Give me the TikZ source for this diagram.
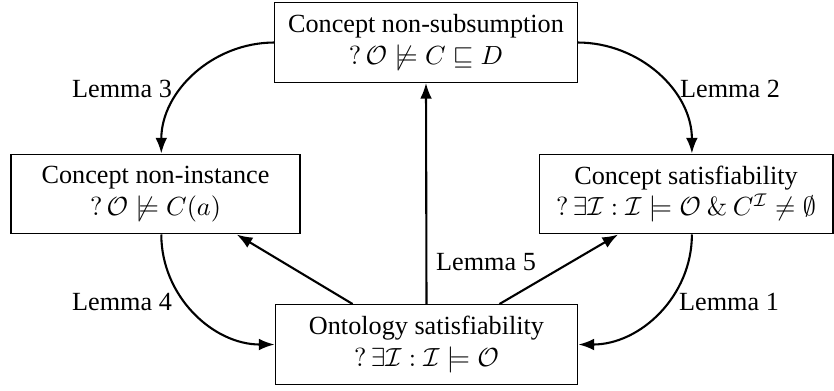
\documentclass[tikz,border=0pt]{standalone}
\usepackage{amssymb}
\usepackage[no-math]{fontspec}
\setmainfont{Liberation Serif}
\usetikzlibrary{arrows.meta,calc}
\begin{document}
\begin{tikzpicture}[x=0.3817pt,y=-0.3817pt,
  box/.style={draw,line width=0.4pt,align=center,inner sep=2pt,minimum height=30.5pt},
  conn/.style={line width=0.8pt,-{Latex[length=6pt,width=4.5pt]}},
  lbl/.style={inner sep=0pt}]
\useasboundingbox (0,0) rectangle (834,390);
\node[box,minimum width=115.3pt] (top) at (426,42.5) {Concept non-subsumption\\ $?\,\mathcal{O}\not\models C\sqsubseteq D$};
\node[box,minimum width=110.3pt] (left) at (155.5,194) {Concept non-instance\\ $?\,\mathcal{O}\not\models C(a)$};
\node[box,minimum width=112.2pt] (right) at (686,194) {Concept satisfiability\\ $?\,\exists\mathcal{I}:\mathcal{I}\models\mathcal{O}\mathbin{\&}C^{\mathcal{I}}\neq\emptyset$};
\node[box,minimum width=115.6pt] (bot) at (426.5,344.5) {Ontology satisfiability\\ $?\,\exists\mathcal{I}:\mathcal{I}\models\mathcal{O}$};

\draw[conn] (top.west) to[out=180,in=90] ($(left.north west)!0.52!(left.north east)$);
\draw[conn] (top.east) to[out=0,in=90] ($(right.north west)!0.52!(right.north east)$);
\draw[conn] ($(left.south west)!0.52!(left.south east)$) to[out=-90,in=180] (bot.west);
\draw[conn] ($(right.south west)!0.52!(right.south east)$) to[out=-90,in=0] (bot.east);
\draw[conn] ($(bot.north west)!0.257!(bot.north east)$) -- ($(left.south west)!0.78!(left.south east)$);
\draw[conn] (bot.north) -- (top.south);
\draw[conn] ($(bot.north west)!0.74!(bot.north east)$) -- ($(right.south west)!0.27!(right.south east)$);

\node[lbl] (l3) at (122,89) {Lemma 3};
\node[lbl] (l2) at (730,89) {Lemma 2};
\node[lbl] (l4) at (122,302) {Lemma 4};
\node[lbl] (l1) at (729,302) {Lemma 1};
\node[lbl] (l5) at (486,262) {Lemma 5};
\end{tikzpicture}
\end{document}
